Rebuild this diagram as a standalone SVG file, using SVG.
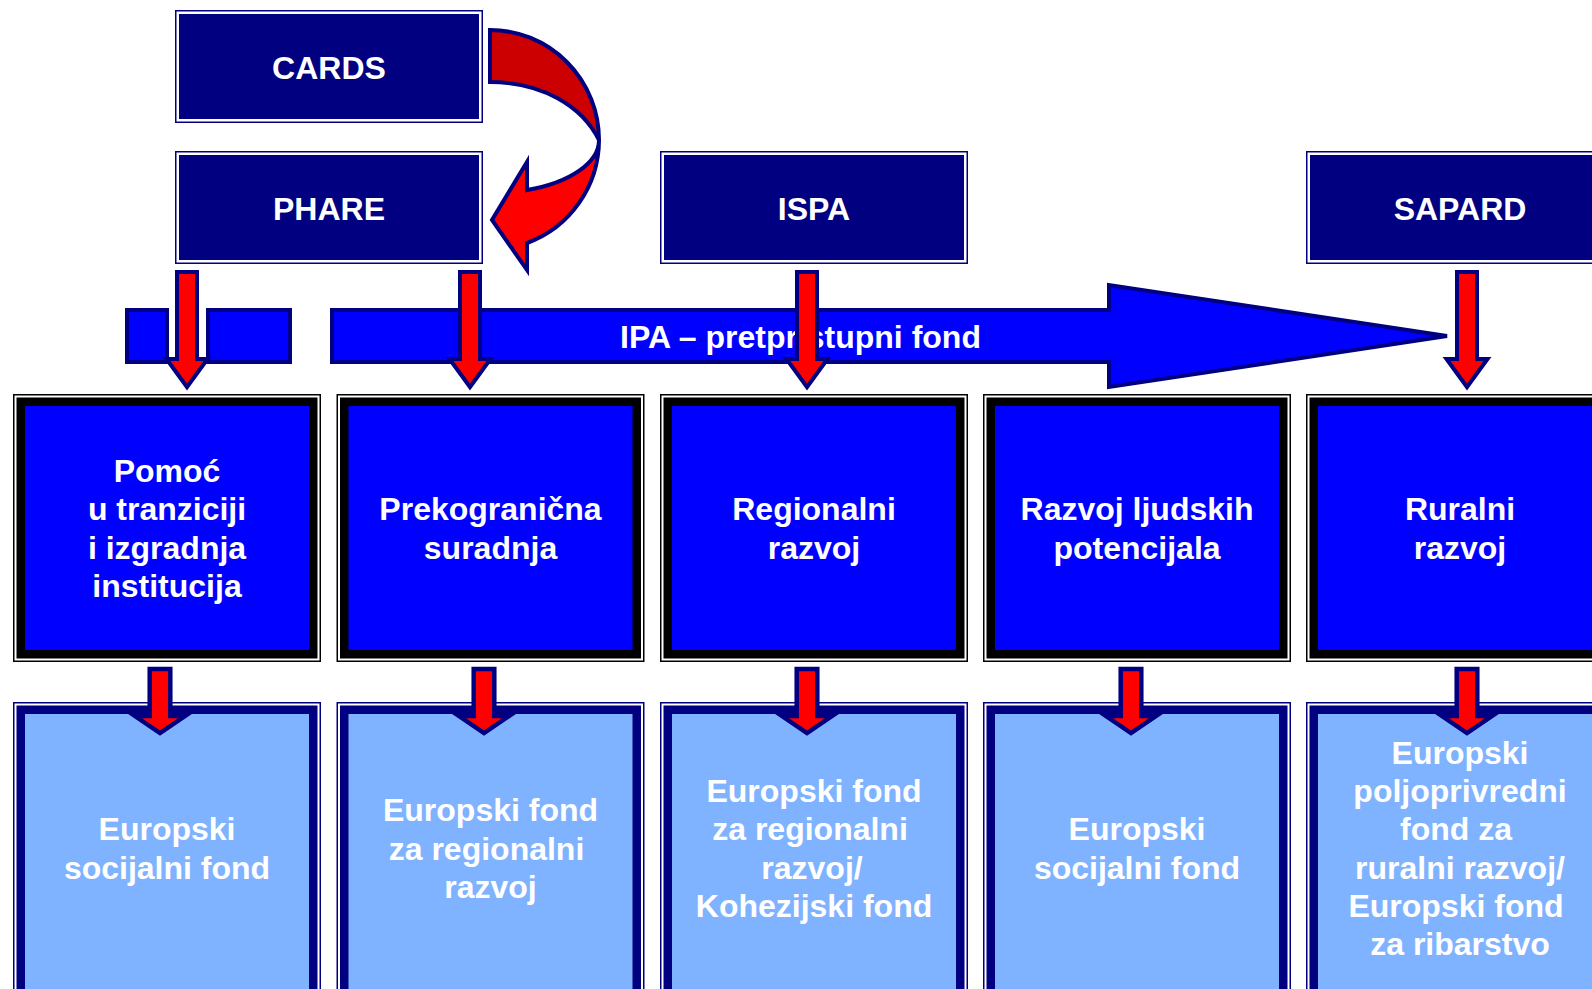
<svg xmlns="http://www.w3.org/2000/svg" width="1592" height="989" viewBox="0 0 1592 989">
<style>
  .t { font-family: "Liberation Sans", Arial, sans-serif; font-weight: bold; font-size: 32px; fill: #ffffff; text-anchor: middle; }
  .tbo { fill: #ffffff; stroke: #000080; stroke-width: 1.5; }
  .tbi { fill: #000080; }
  .mbo { fill: #ffffff; stroke: #000000; stroke-width: 1.5; }
  .mbk { fill: #000000; }
  .mbi { fill: #0000ff; }
  .bbo { fill: #ffffff; stroke: #000080; stroke-width: 1.5; }
  .bbk { fill: #000080; }
  .bbi { fill: #80b3ff; }
  .band { fill: #0000ff; stroke: #000080; stroke-width: 4; }
  .red { fill: #ff0000; stroke: #000080; stroke-width: 4; }
  .redS { fill: #ff0000; stroke: #000080; stroke-width: 4.5; }
  .dark { fill: #cc0000; stroke: #000080; stroke-width: 4; stroke-linejoin: miter; }
</style>
<defs>
  <path id="arrowTop" d="M-10,272 L10,272 L10,359 L20.5,359 L0,387 L-20.5,359 L-10,359 Z"/>
  <path id="arrowBot" d="M-10.3,669 L10.3,669 L10.3,716 L25,716 L0,733 L-25,716 L-10.3,716 Z"/>
</defs>

<!-- Top nodes -->
<g id="node-cards">
  <rect class="tbo" x="175.75" y="10.75" width="306.5" height="111.5"/>
  <rect class="tbi" x="179" y="14" width="300" height="105"/>
  <text class="t" x="329" y="79">CARDS</text>
</g>
<g id="node-phare">
  <rect class="tbo" x="175.75" y="151.75" width="306.5" height="111.5"/>
  <rect class="tbi" x="179" y="155" width="300" height="105"/>
  <text class="t" x="329" y="220">PHARE</text>
</g>
<g id="node-ispa">
  <rect class="tbo" x="660.75" y="151.75" width="306.5" height="111.5"/>
  <rect class="tbi" x="664" y="155" width="300" height="105"/>
  <text class="t" x="814" y="220">ISPA</text>
</g>
<g id="node-sapard">
  <rect class="tbo" x="1306.75" y="151.75" width="306.5" height="111.5"/>
  <rect class="tbi" x="1310" y="155" width="300" height="105"/>
  <text class="t" x="1460" y="220">SAPARD</text>
</g>

<!-- IPA band -->
<g id="node-ipa">
  <rect class="band" x="127" y="310" width="40" height="52"/>
  <rect class="band" x="208" y="310" width="82" height="52"/>
  <path class="band" d="M332,310 L1109,310 L1109,285 L1447,336 L1109,387 L1109,362 L332,362 Z"/>
  <text class="t" x="800.5" y="348">IPA – pretpristupni fond</text>
</g>

<!-- Middle nodes -->
<g id="node-pomoc">
  <rect class="mbo" x="13.75" y="394.75" width="306.5" height="266.5"/>
  <rect class="mbk" x="16.5" y="397.5" width="301" height="261"/>
  <rect class="mbi" x="25" y="406" width="284" height="244"/>
  <text class="t" x="167" y="482">Pomoć</text>
  <text class="t" x="167" y="520.4">u tranziciji</text>
  <text class="t" x="167" y="558.7">i izgradnja</text>
  <text class="t" x="167" y="597">institucija</text>
</g>
<g id="node-prekogranicna">
  <rect class="mbo" x="337.25" y="394.75" width="306.5" height="266.5"/>
  <rect class="mbk" x="340" y="397.5" width="301" height="261"/>
  <rect class="mbi" x="348.5" y="406" width="284" height="244"/>
  <text class="t" x="490.5" y="520.4">Prekogranična</text>
  <text class="t" x="490.5" y="558.7">suradnja</text>
</g>
<g id="node-regionalni">
  <rect class="mbo" x="660.75" y="394.75" width="306.5" height="266.5"/>
  <rect class="mbk" x="663.5" y="397.5" width="301" height="261"/>
  <rect class="mbi" x="672" y="406" width="284" height="244"/>
  <text class="t" x="814" y="520.4">Regionalni</text>
  <text class="t" x="814" y="558.7">razvoj</text>
</g>
<g id="node-ljudski">
  <rect class="mbo" x="983.75" y="394.75" width="306.5" height="266.5"/>
  <rect class="mbk" x="986.5" y="397.5" width="301" height="261"/>
  <rect class="mbi" x="995" y="406" width="284" height="244"/>
  <text class="t" x="1137" y="520.4">Razvoj ljudskih</text>
  <text class="t" x="1137" y="558.7">potencijala</text>
</g>
<g id="node-ruralni">
  <rect class="mbo" x="1306.75" y="394.75" width="306.5" height="266.5"/>
  <rect class="mbk" x="1309.5" y="397.5" width="301" height="261"/>
  <rect class="mbi" x="1318" y="406" width="284" height="244"/>
  <text class="t" x="1460" y="520.4">Ruralni</text>
  <text class="t" x="1460" y="558.7">razvoj</text>
</g>

<!-- Bottom nodes -->
<g id="node-esf1">
  <rect class="bbo" x="13.75" y="702.75" width="306.5" height="300"/>
  <rect class="bbk" x="16.5" y="705.5" width="301" height="300"/>
  <rect class="bbi" x="25" y="714" width="284" height="300"/>
  <text class="t" x="167" y="840.4">Europski</text>
  <text class="t" x="167" y="878.7">socijalni fond</text>
</g>
<g id="node-erdf1">
  <rect class="bbo" x="337.25" y="702.75" width="306.5" height="300"/>
  <rect class="bbk" x="340" y="705.5" width="301" height="300"/>
  <rect class="bbi" x="348.5" y="714" width="284" height="300"/>
  <text class="t" x="490.5" y="821.3">Europski fond</text>
  <text class="t" x="486.5" y="859.5">za regionalni</text>
  <text class="t" x="490.5" y="897.8">razvoj</text>
</g>
<g id="node-erdf2">
  <rect class="bbo" x="660.75" y="702.75" width="306.5" height="300"/>
  <rect class="bbk" x="663.5" y="705.5" width="301" height="300"/>
  <rect class="bbi" x="672" y="714" width="284" height="300"/>
  <text class="t" x="814" y="802">Europski fond</text>
  <text class="t" x="810" y="840.4">za regionalni</text>
  <text class="t" x="812" y="878.7">razvoj/</text>
  <text class="t" x="814" y="917">Kohezijski fond</text>
</g>
<g id="node-esf2">
  <rect class="bbo" x="983.75" y="702.75" width="306.5" height="300"/>
  <rect class="bbk" x="986.5" y="705.5" width="301" height="300"/>
  <rect class="bbi" x="995" y="714" width="284" height="300"/>
  <text class="t" x="1137" y="840.4">Europski</text>
  <text class="t" x="1137" y="878.7">socijalni fond</text>
</g>
<g id="node-eafrd">
  <rect class="bbo" x="1306.75" y="702.75" width="306.5" height="300"/>
  <rect class="bbk" x="1309.5" y="705.5" width="301" height="300"/>
  <rect class="bbi" x="1318" y="714" width="284" height="300"/>
  <text class="t" x="1460" y="763.8">Europski</text>
  <text class="t" x="1460" y="802">poljoprivredni</text>
  <text class="t" x="1456" y="840.4">fond za</text>
  <text class="t" x="1460" y="878.7">ruralni razvoj/</text>
  <text class="t" x="1456" y="917">Europski fond</text>
  <text class="t" x="1460" y="955.3">za ribarstvo</text>
</g>

<!-- Connectors -->
<g id="connectors">
  <g id="curved-arrow">
    <path class="dark" d="M490,30 A109,110 0 0 1 599,140 C582,106 542,82 490,82 Z"/>
    <path class="red" d="M599,140 A109,110 0 0 1 527,243 L527,270 L492,220 L527,162 L527,190 A109,53 0 0 0 599,140 Z"/>
  </g>
  <use href="#arrowTop" class="red" x="187" y="0"/>
  <use href="#arrowTop" class="red" x="470" y="0"/>
  <use href="#arrowTop" class="red" x="807" y="0"/>
  <use href="#arrowTop" class="red" x="1467" y="0"/>
  <use href="#arrowBot" class="redS" x="160" y="0"/>
  <use href="#arrowBot" class="redS" x="484" y="0"/>
  <use href="#arrowBot" class="redS" x="807" y="0"/>
  <use href="#arrowBot" class="redS" x="1131" y="0"/>
  <use href="#arrowBot" class="redS" x="1467" y="0"/>
</g>
</svg>
